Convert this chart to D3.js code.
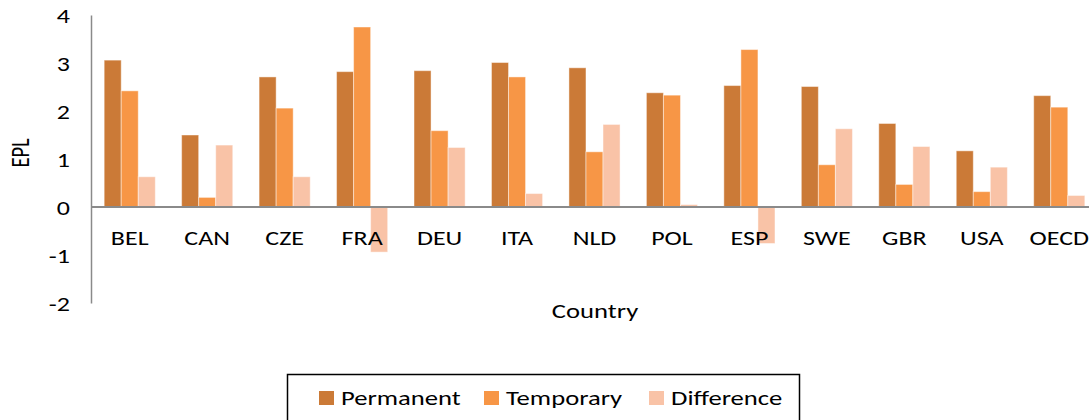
<!DOCTYPE html>
<html>
<head>
<meta charset="utf-8">
<script src="https://cdn.jsdelivr.net/npm/d3@7"></script>
<style>
  html, body { margin: 0; padding: 0; background: #fff; }
  svg { display: block; }
  text { font-family: Carlito, Calibri, Lato, sans-serif; fill: #000; }
</style>
</head>
<body>
<svg id="chart" width="1089" height="420"></svg>
<script>
// Employment protection legislation indices by country
const countries = ["BEL", "CAN", "CZE", "FRA", "DEU", "ITA", "NLD", "POL", "ESP", "SWE", "GBR", "USA", "OECD"];
const permanent = [3.06, 1.50, 2.71, 2.82, 2.84, 3.01, 2.90, 2.38, 2.53, 2.51, 1.74, 1.17, 2.32];
const temporary = [2.42, 0.20, 2.06, 3.75, 1.59, 2.71, 1.15, 2.33, 3.28, 0.88, 0.47, 0.32, 2.08];
const difference = [0.63, 1.29, 0.63, -0.94, 1.24, 0.28, 1.72, 0.05, -0.76, 1.63, 1.26, 0.83, 0.24];
const seriesNames = ["Permanent", "Temporary", "Difference"];
const seriesColors = ["#CB7A37", "#F79646", "#F9C3A7"];
const yTicks = [-2, -1, 0, 1, 2, 3, 4];

const series = [permanent, temporary, difference];
const svg = d3.select("#chart");
const SX = 1.3; // wide text face

function label(parent, x, y, str, anchor, size, extra) {
  return parent.append("text")
    .attr("transform", `translate(${x},${y}) scale(${SX},1)${extra || ""}`)
    .attr("text-anchor", anchor)
    .style("font-size", size + "px")
    .text(str);
}

const x0 = d3.scaleBand().domain(countries).range([91, 1098]).padding(0);
const groupW = x0.bandwidth() * 0.66;
const x1 = d3.scaleBand().domain(seriesNames).range([0, groupW]).padding(0);
const y = d3.scaleLinear().domain([-2, 4]).range([303, 15]);

// bars
const groups = svg.append("g").selectAll("g")
  .data(countries)
  .join("g")
  .attr("transform", d => `translate(${x0(d) + (x0.bandwidth() - groupW) / 2},0)`);

groups.selectAll("rect")
  .data((c, i) => seriesNames.map((s, k) => ({ s, v: series[k][i], color: seriesColors[k] })))
  .join("rect")
  .attr("x", d => x1(d.s))
  .attr("width", x1.bandwidth())
  .attr("y", d => y(Math.max(0, d.v)))
  .attr("height", d => Math.abs(y(d.v) - y(0)))
  .attr("fill", d => d.color)
  .attr("stroke", "#fff")
  .attr("stroke-opacity", 0.45)
  .attr("stroke-width", 1);

// y axis
const yAxis = svg.append("g")
  .attr("transform", "translate(91,0)")
  .call(d3.axisLeft(y).tickValues(yTicks).tickSize(0).tickFormat(d => String(d)));
yAxis.select(".domain").attr("stroke", "#8a8a8a").attr("stroke-width", 1.5);
yAxis.selectAll(".tick text")
  .attr("x", 0)
  .attr("dy", "0.35em")
  .attr("transform", `translate(-21,0) scale(${SX},1)`)
  .attr("fill", "#000")
  .attr("text-anchor", "end")
  .style("font-size", "20px");

// zero baseline
svg.append("line")
  .attr("x1", 91).attr("x2", 1098)
  .attr("y1", y(0)).attr("y2", y(0))
  .attr("stroke", "#8a8a8a").attr("stroke-width", 2);

// category labels
const cats = svg.append("g");
countries.forEach(c => label(cats, x0(c) + x0.bandwidth() / 2, 245, c, "middle", 20));

// axis titles
label(svg, 595, 318, "Country", "middle", 20.5);
label(svg, 29, 153, "EPL", "middle", 20.5, " rotate(-90)");

// legend
const legend = svg.append("g");
legend.append("rect")
  .attr("x", 287.5).attr("y", 374.5)
  .attr("width", 512).attr("height", 60)
  .attr("fill", "#fff").attr("stroke", "#000").attr("stroke-width", 1.5);

const legendX = [319, 484, 649];
seriesNames.forEach((name, i) => {
  legend.append("rect")
    .attr("x", legendX[i]).attr("y", 391)
    .attr("width", 15).attr("height", 14)
    .attr("fill", seriesColors[i]);
  label(legend, legendX[i] + 22, 405, name, "start", 20.5);
});
</script>
</body>
</html>
